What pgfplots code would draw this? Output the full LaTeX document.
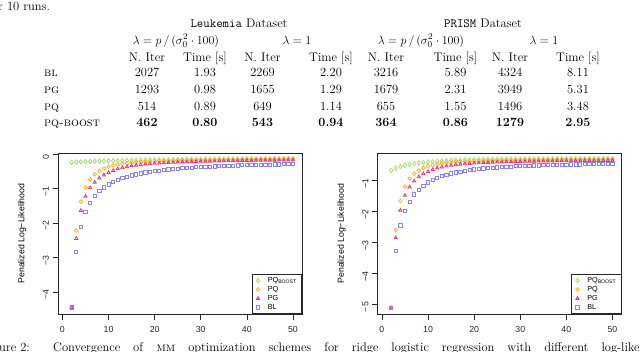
\documentclass[border=0pt]{standalone}
\usepackage{fontspec}
\usepackage{pgfplots}
\usepackage{pgfplotstable}
\pgfplotsset{compat=1.18}
\newfontfamily\hv{Liberation Sans}

\definecolor{cboost}{RGB}{170,218,120}
\definecolor{cpq}{RGB}{250,182,45}
\definecolor{cpg}{RGB}{228,45,140}
\definecolor{cbl}{RGB}{140,130,240}

% Leukemia
\pgfplotstableread{
x boost pq pg bl
2 -0.240 -4.45 -4.45 -4.45
3 -0.232 -2.22 -2.45 -2.84
4 -0.226 -1.38 -1.64 -2.11
5 -0.221 -0.97 -1.23 -1.68
6 -0.216 -0.74 -0.98 -1.41
7 -0.212 -0.59 -0.82 -1.22
8 -0.208 -0.49 -0.70 -1.08
9 -0.204 -0.42 -0.61 -0.97
10 -0.200 -0.37 -0.54 -0.88
11 -0.197 -0.33 -0.48 -0.81
12 -0.194 -0.30 -0.43 -0.75
13 -0.191 -0.28 -0.40 -0.70
14 -0.188 -0.263 -0.37 -0.66
15 -0.185 -0.250 -0.345 -0.62
16 -0.182 -0.239 -0.325 -0.59
17 -0.180 -0.230 -0.308 -0.56
18 -0.178 -0.222 -0.294 -0.535
19 -0.176 -0.215 -0.282 -0.515
20 -0.174 -0.209 -0.272 -0.495
21 -0.172 -0.204 -0.263 -0.478
22 -0.170 -0.199 -0.255 -0.462
23 -0.168 -0.195 -0.248 -0.448
24 -0.166 -0.191 -0.242 -0.435
25 -0.164 -0.188 -0.236 -0.423
26 -0.162 -0.185 -0.231 -0.412
27 -0.160 -0.182 -0.226 -0.402
28 -0.158 -0.179 -0.222 -0.393
29 -0.157 -0.177 -0.218 -0.384
30 -0.155 -0.174 -0.214 -0.376
31 -0.154 -0.172 -0.211 -0.369
32 -0.152 -0.170 -0.208 -0.362
33 -0.151 -0.168 -0.205 -0.356
34 -0.150 -0.166 -0.202 -0.350
35 -0.148 -0.164 -0.199 -0.344
36 -0.147 -0.163 -0.197 -0.339
37 -0.146 -0.161 -0.195 -0.334
38 -0.145 -0.160 -0.193 -0.329
39 -0.144 -0.158 -0.191 -0.325
40 -0.143 -0.157 -0.189 -0.321
41 -0.142 -0.156 -0.187 -0.317
42 -0.141 -0.155 -0.185 -0.313
43 -0.140 -0.154 -0.183 -0.310
44 -0.139 -0.153 -0.182 -0.307
45 -0.138 -0.152 -0.180 -0.304
46 -0.137 -0.151 -0.179 -0.301
47 -0.136 -0.150 -0.177 -0.298
48 -0.135 -0.149 -0.176 -0.295
49 -0.134 -0.148 -0.175 -0.293
50 -0.133 -0.147 -0.174 -0.290
}\leuk

% PRISM
\pgfplotstableread{
x boost pq pg bl
2 -0.680 -5.12 -5.12 -5.12
3 -0.610 -2.61 -2.86 -3.29
4 -0.560 -1.67 -1.97 -2.46
5 -0.520 -1.20 -1.49 -1.99
6 -0.488 -0.95 -1.22 -1.69
7 -0.462 -0.79 -1.03 -1.46
8 -0.441 -0.68 -0.89 -1.30
9 -0.424 -0.60 -0.79 -1.17
10 -0.410 -0.55 -0.72 -1.07
11 -0.398 -0.51 -0.66 -0.99
12 -0.388 -0.48 -0.61 -0.92
13 -0.379 -0.455 -0.575 -0.865
14 -0.371 -0.437 -0.545 -0.82
15 -0.364 -0.423 -0.521 -0.78
16 -0.358 -0.411 -0.501 -0.747
17 -0.353 -0.401 -0.485 -0.718
18 -0.348 -0.393 -0.471 -0.693
19 -0.344 -0.386 -0.459 -0.671
20 -0.340 -0.380 -0.449 -0.652
21 -0.337 -0.375 -0.440 -0.635
22 -0.334 -0.371 -0.432 -0.620
23 -0.331 -0.367 -0.425 -0.606
24 -0.329 -0.364 -0.419 -0.594
25 -0.327 -0.361 -0.414 -0.583
26 -0.325 -0.358 -0.409 -0.573
27 -0.323 -0.356 -0.405 -0.564
28 -0.321 -0.354 -0.401 -0.556
29 -0.320 -0.352 -0.397 -0.548
30 -0.318 -0.350 -0.394 -0.541
31 -0.317 -0.349 -0.391 -0.535
32 -0.316 -0.347 -0.388 -0.529
33 -0.315 -0.346 -0.386 -0.523
34 -0.314 -0.345 -0.384 -0.518
35 -0.313 -0.344 -0.382 -0.513
36 -0.312 -0.343 -0.380 -0.509
37 -0.311 -0.342 -0.378 -0.505
38 -0.310 -0.341 -0.376 -0.501
39 -0.309 -0.340 -0.375 -0.497
40 -0.308 -0.339 -0.373 -0.494
41 -0.307 -0.338 -0.372 -0.491
42 -0.307 -0.337 -0.371 -0.488
43 -0.306 -0.337 -0.370 -0.485
44 -0.305 -0.336 -0.369 -0.482
45 -0.305 -0.335 -0.368 -0.480
46 -0.304 -0.335 -0.367 -0.478
47 -0.304 -0.334 -0.366 -0.476
48 -0.303 -0.334 -0.365 -0.474
49 -0.303 -0.333 -0.364 -0.472
50 -0.302 -0.333 -0.363 -0.470
}\prism

\pgfplotsset{rplot/.style={
  scale only axis, width=244pt, height=161pt,
  xmin=-0.96, xmax=51.96,
  xtick={0,10,20,30,40,50},
  xticklabels={0,10,20,30,40,50},
  tick align=outside, major tick length=5.5pt,
  tick pos=left,
  tick style={black!85, line width=0.6pt},
  axis line style={black!85, line width=0.6pt},
  tick label style={font=\hv\fontsize{8.75}{10}\selectfont, text=black!85},
  xticklabel style={yshift=-3.5pt},
  yticklabel style={rotate=90, anchor=south, xshift=-3pt},
  ylabel={Penalized Log−Likelihood},
  every axis y label/.style={at={(axis description cs:0,0.5)}, xshift=-36pt,
    rotate=90, anchor=center, font=\hv\fontsize{8.75}{10}\selectfont},
  legend cell align=left,
  legend style={at={(1,0)}, anchor=south east, draw=black!85, line width=0.6pt,
    font=\hv\fontsize{7.3}{8}\selectfont, inner xsep=4pt, inner ysep=2pt,
    row sep=0.5pt,
    nodes={text height=5pt, text depth=1.5pt, inner sep=1pt},
    /tikz/every odd column/.append style={column sep=7pt}},
  legend image code/.code={\draw[#1] plot coordinates {(0pt,0pt)};},
  every axis plot/.append style={only marks, line width=0.8pt, mark size=1.8pt},
}}

\begin{document}
\begin{tikzpicture}[font=\fontsize{12.5}{15}\selectfont]
\useasboundingbox (0pt,0pt) rectangle (640pt,-351pt);
\clip (0pt,0pt) rectangle (640pt,-351pt);

% table above the plots
\begin{scope}[every node/.style={inner sep=0pt}]
\node[anchor=base west] at (-2pt,-10pt) {r 10 runs.};
\node[anchor=base] at (239pt,-27.6pt) {\texttt{Leukemia} Dataset};
\node[anchor=base] at (483pt,-27.6pt) {\texttt{PRISM} Dataset};
\node[anchor=base] at (176pt,-44pt) {$\lambda = p\,/\,(\sigma_0^2\cdot 100)$};
\node[anchor=base] at (297pt,-44pt) {$\lambda = 1$};
\node[anchor=base] at (421pt,-44pt) {$\lambda = p\,/\,(\sigma_0^2\cdot 100)$};
\node[anchor=base] at (544pt,-44pt) {$\lambda = 1$};
\foreach \xx in {147,262.5,386,510} \node[anchor=base] at (\xx pt,-61pt) {N. Iter};
\foreach \xx in {205,331,455.5,578} \node[anchor=base] at (\xx pt,-61pt) {Time [s]};
\foreach \yy/\lab/\fnt/\vals in {
    76.7/bl/\relax/{2027,1.93,2269,2.20,3216,5.89,4324,8.11},
    93.3/pg/\relax/{1293,0.98,1655,1.29,1679,2.31,3949,5.31},
    110/pq/\relax/{514,0.89,649,1.14,655,1.55,1496,3.48},
    126.7/pq-boost/\bfseries/{462,0.80,543,0.94,364,0.86,1279,2.95}} {
  \node[anchor=base west] at (44pt,-\yy pt) {\textsc{\lab}};
  \foreach \v [count=\i] in \vals {
    \pgfmathsetmacro\xx{{147,205,262.5,331,386,455.5,510,578}[\i-1]}
    \node[anchor=base] at (\xx pt,-\yy pt) {\fnt \v};
  }
}
\end{scope}

% left plot: Leukemia
\begin{axis}[rplot, at={(58pt,-314pt)}, anchor=south west,
  ymin=-4.64, ymax=0.03, ytick={-4,-3,-2,-1,0},
  yticklabels={−4,−3,−2,−1,0}]
\addplot[cboost, mark=diamond, mark size=2.2pt, fill=cboost!35] table[x=x, y=boost] {\leuk};
\addlegendentry{PQ\textsubscript{BOOST}}
\addplot[cpq, mark=o, fill=cpq!35] table[x=x, y=pq] {\leuk};
\addlegendentry{PQ}
\addplot[cpg, mark=triangle, fill=cpg!35] table[x=x, y=pg] {\leuk};
\addlegendentry{PG}
\addplot[cbl, mark=square, mark size=1.6pt, fill=cbl!35] table[x=x, y=bl] {\leuk};
\addlegendentry{BL}
\end{axis}

% right plot: PRISM
\begin{axis}[rplot, at={(377.5pt,-314pt)}, anchor=south west,
  ymin=-5.32, ymax=-0.12, ytick={-5,-4,-3,-2,-1},
  yticklabels={−5,−4,−3,−2,−1}]
\addplot[cboost, mark=diamond, mark size=2.2pt, fill=cboost!35] table[x=x, y=boost] {\prism};
\addlegendentry{PQ\textsubscript{BOOST}}
\addplot[cpq, mark=o, fill=cpq!35] table[x=x, y=pq] {\prism};
\addlegendentry{PQ}
\addplot[cpg, mark=triangle, fill=cpg!35] table[x=x, y=pg] {\prism};
\addlegendentry{PG}
\addplot[cbl, mark=square, mark size=1.6pt, fill=cbl!35] table[x=x, y=bl] {\prism};
\addlegendentry{BL}
\end{axis}

% caption, cut by the page edge as in the reference
\node[anchor=base east, inner sep=0pt] at (30pt,-351pt) {Figure 2:};
\node[anchor=base west, inner sep=0pt] at (53pt,-351pt)
  {\makebox[600pt][s]{Convergence of \textsc{mm} optimization schemes for ridge logistic regression with different log-likelih}};
\end{tikzpicture}
\end{document}
